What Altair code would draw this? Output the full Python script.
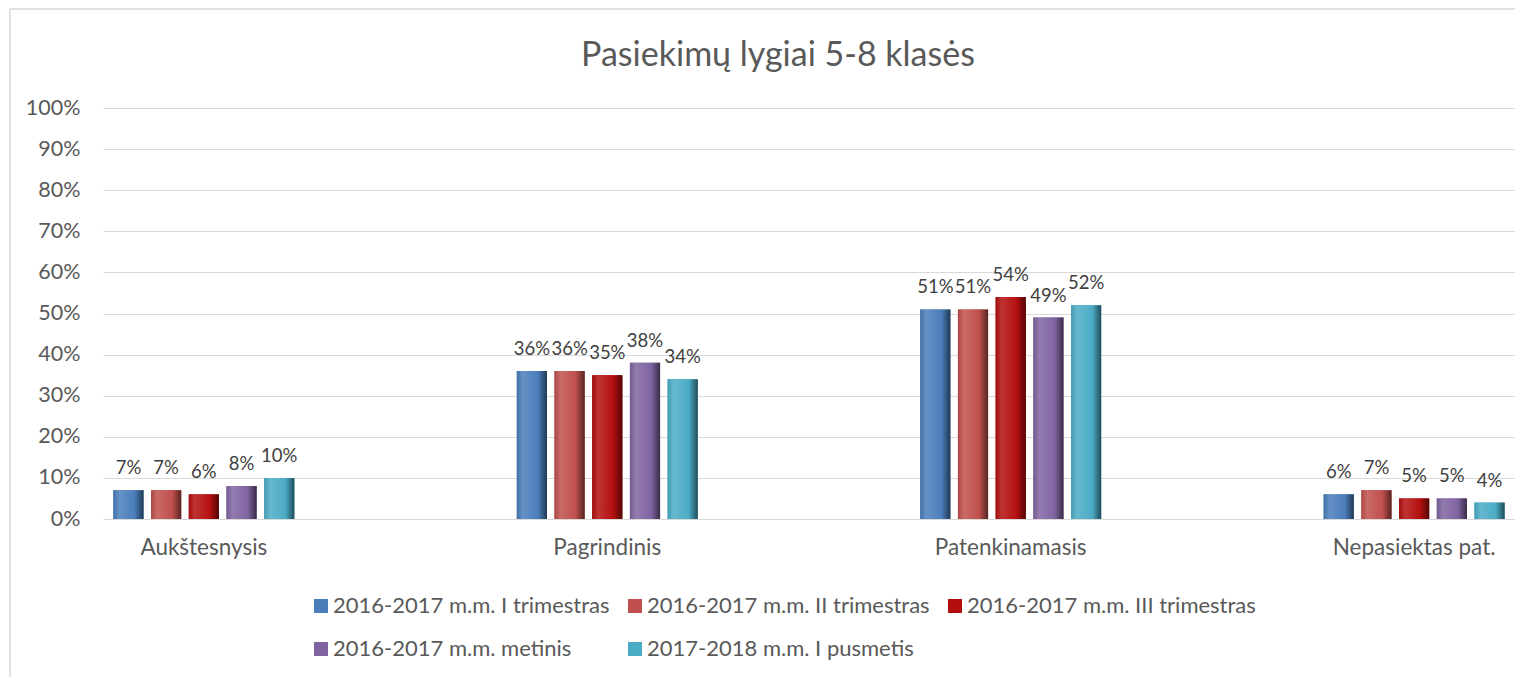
import altair as alt
import pandas as pd

categories = ["Aukštesnysis", "Pagrindinis", "Patenkinamasis", "Nepasiektas pat."]
series = [
    "2016-2017 m.m. I trimestras",
    "2016-2017 m.m. II trimestras",
    "2016-2017 m.m. III trimestras",
    "2016-2017 m.m. metinis",
    "2017-2018 m.m. I pusmetis",
]
values_s1 = [0.07, 0.36, 0.51, 0.06]
values_s2 = [0.07, 0.36, 0.51, 0.07]
values_s3 = [0.06, 0.35, 0.54, 0.05]
values_s4 = [0.08, 0.38, 0.49, 0.05]
values_s5 = [0.10, 0.34, 0.52, 0.04]
colors = ["#4A7EBB", "#C0504D", "#B40F0F", "#8064A2", "#4BACC6"]
y_ticks = [0, 0.1, 0.2, 0.3, 0.4, 0.5, 0.6, 0.7, 0.8, 0.9, 1.0]

all_values = [values_s1, values_s2, values_s3, values_s4, values_s5]
rows = []
for s, vals in zip(series, all_values):
    for c, v in zip(categories, vals):
        rows.append({"cat": c, "series": s, "value": v})
df = pd.DataFrame(rows)

FONT = "Lato"
GREY = "#595959"


def shade(hex_color, f):
    h = hex_color.lstrip("#")
    r, g, b = (int(h[i:i + 2], 16) for i in (0, 2, 4))
    if f >= 0:
        r, g, b = (int(c + (255 - c) * f) for c in (r, g, b))
    else:
        r, g, b = (int(c * (1 + f)) for c in (r, g, b))
    return "#{:02X}{:02X}{:02X}".format(r, g, b)


base = alt.Chart(df).encode(
    x=alt.X(
        "cat:N",
        sort=categories,
        scale=alt.Scale(paddingInner=0.5, paddingOuter=0),
        axis=alt.Axis(
            title=None, labelAngle=0, domain=False, ticks=False, grid=False,
            labelPadding=17, labelFontSize=22.5, labelColor=GREY, labelFont=FONT,
        ),
    ),
    xOffset=alt.XOffset(
        "series:N", sort=series,
        scale=alt.Scale(paddingInner=0.2, paddingOuter=0.275),
    ),
    y=alt.Y(
        "value:Q",
        scale=alt.Scale(domain=[0, 1]),
        axis=alt.Axis(
            title=None, values=y_ticks, format=".0%", domain=False, ticks=False,
            labelPadding=23, labelFontSize=21.5, labelColor=GREY, labelFont=FONT,
            gridColor="#D9D9D9", gridWidth=1,
        ),
    ),
)

bars = base.mark_bar().encode(
    color=alt.Color(
        "series:N",
        sort=series,
        scale=alt.Scale(domain=series, range=colors),
        legend=alt.Legend(
            title=None, orient="none", legendX=207, legendY=487,
            direction="horizontal", columns=3, symbolType="square",
            symbolSize=196, symbolStrokeWidth=0, labelFontSize=22,
            labelColor=GREY, labelFont=FONT, rowPadding=21, columnPadding=14,
            labelOffset=1, labelLimit=0,
        ),
    )
)

bevel_layers = []
for s, col in zip(series, colors):
    grad = alt.Gradient(
        gradient="linear", x1=0, x2=1, y1=0, y2=0,
        stops=[
            alt.GradientStop(offset=0, color=shade(col, -0.1)),
            alt.GradientStop(offset=0.2, color=shade(col, 0.15)),
            alt.GradientStop(offset=0.7, color=col),
            alt.GradientStop(offset=1, color=shade(col, -0.55)),
        ],
    )
    bevel_layers.append(
        base.transform_filter(alt.datum.series == s).mark_bar(color=grad)
    )

labels = base.mark_text(
    baseline="alphabetic", dy=-16, fontSize=18.5, color="#404040", font=FONT
).encode(text=alt.Text("value:Q", format=".0%"))

frame_df = pd.DataFrame({"k": [0]})
frame_left = alt.Chart(frame_df).mark_rule(color="#D9D9D9", strokeWidth=1.5).encode(
    x=alt.value(-93), y=alt.value(-99), y2=alt.value(720)
)
frame_top = alt.Chart(frame_df).mark_rule(color="#D9D9D9", strokeWidth=1.5).encode(
    x=alt.value(-93), x2=alt.value(1412), y=alt.value(-99)
)

chart = (
    alt.layer(frame_left, frame_top, bars, *bevel_layers, labels)
    .properties(
        width=1412,
        height=411,
        title=alt.TitleParams(
            "Pasiekimų lygiai 5-8 klasės", fontSize=34, color=GREY,
            fontWeight="normal", font=FONT, anchor="middle", dx=-31, offset=-65,
        ),
        autosize=alt.AutoSizeParams(type="none"),
        padding={"left": 95, "top": 100, "right": 0, "bottom": 165},
    )
    .configure_view(strokeWidth=0)
)

chart.save("out.html", embed_options={"renderer": "svg", "actions": False})
